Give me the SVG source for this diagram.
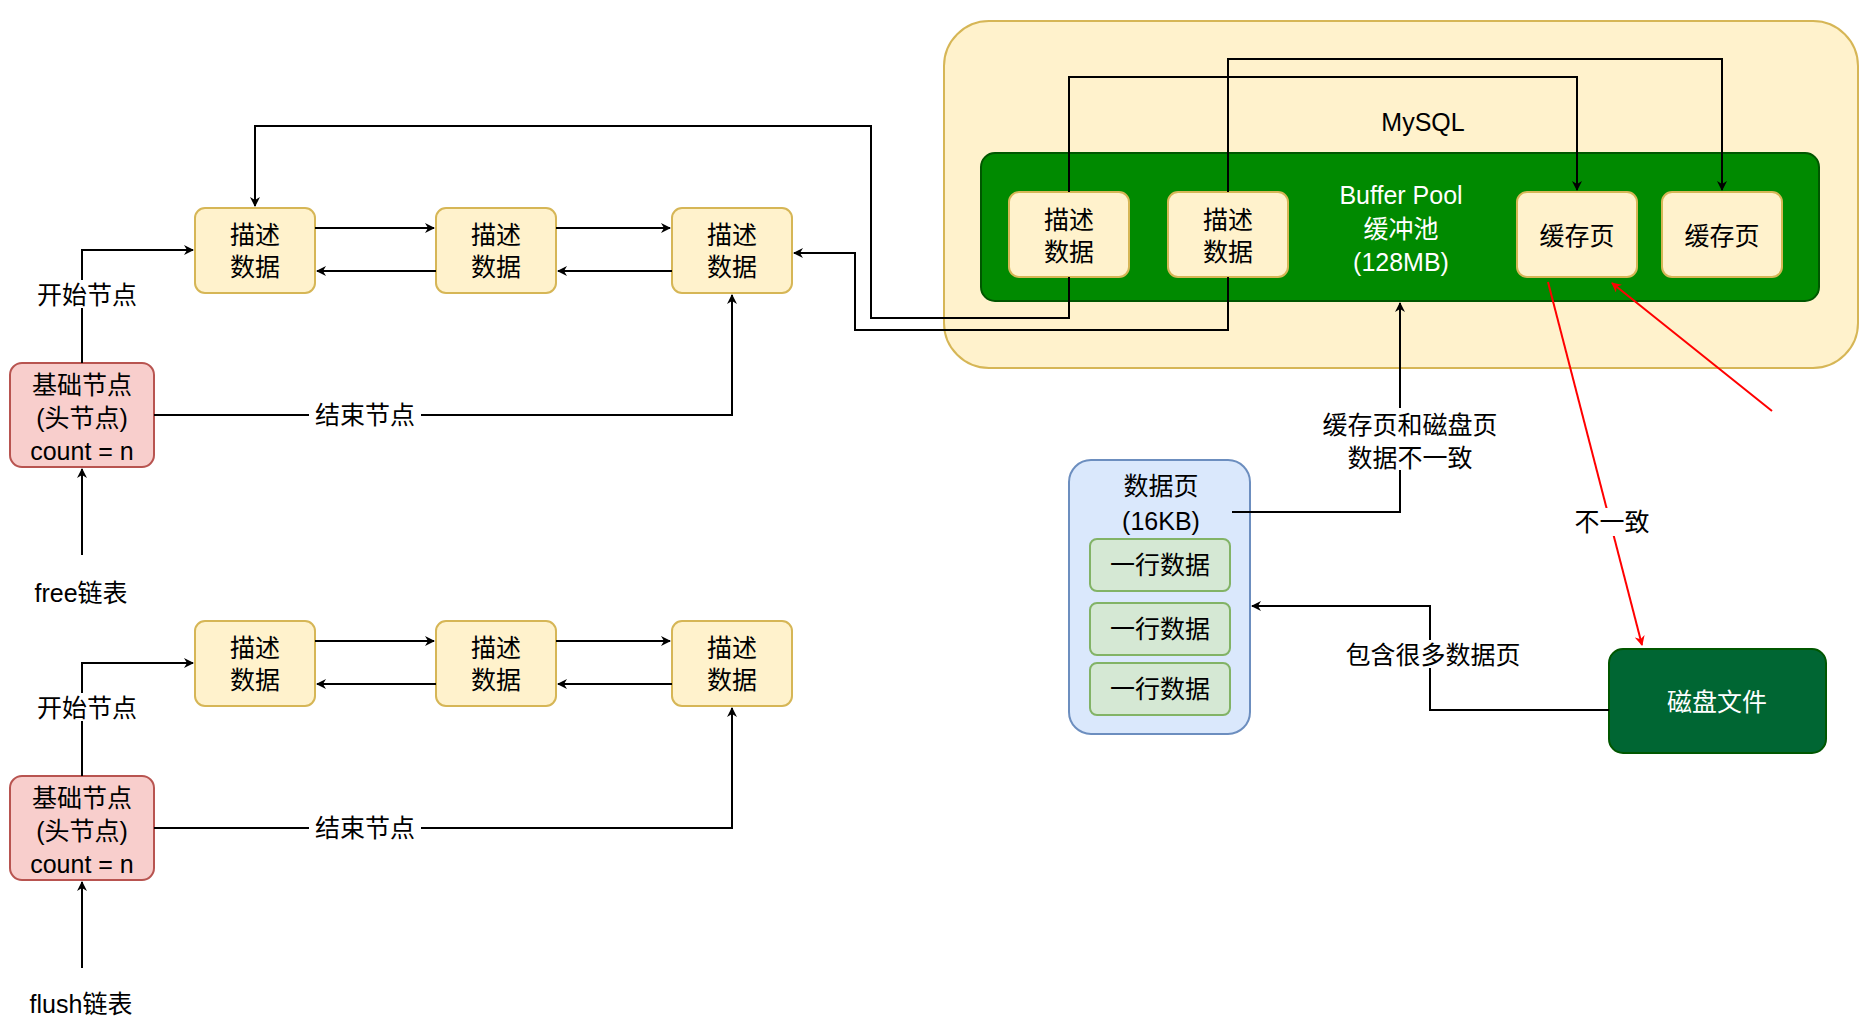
<svg xmlns="http://www.w3.org/2000/svg" width="1868" height="1026" viewBox="0 0 1868 1026">
<style>
text{font-family:"Liberation Sans","Noto Sans CJK SC",sans-serif;font-size:25px;text-anchor:middle;dominant-baseline:central;fill:#000}
.y{fill:#fff2cc;stroke:#d6b656;stroke-width:2}
.r{fill:#f8cecc;stroke:#b85450;stroke-width:2}
.g{fill:#d5e8d4;stroke:#82b366;stroke-width:2}
.e{fill:none;stroke:#000;stroke-width:2}
.red{fill:none;stroke:#f00;stroke-width:2}
.w{fill:#fff}
.lb{fill:#fff}
</style>
<defs>
<marker id="a" viewBox="0 0 10 10" refX="9" refY="5" markerWidth="10" markerHeight="10" markerUnits="userSpaceOnUse" orient="auto"><path d="M0,0 L10,5 L0,10 L3,5 Z" fill="#000"/></marker>
<marker id="ar" viewBox="0 0 10 10" refX="9" refY="5" markerWidth="10" markerHeight="10" markerUnits="userSpaceOnUse" orient="auto"><path d="M0,0 L10,5 L0,10 L3,5 Z" fill="#f00"/></marker>
</defs>
<g id="mysql"><rect x="944" y="21" width="914" height="347" rx="45" class="y"/><text x="1423" y="122">MySQL</text></g>
<g id="bufferpool"><rect x="981" y="153" width="838" height="148" rx="14" fill="#008a00" stroke="#005700" stroke-width="2"/>
<text x="1401" y="195" class="w">Buffer Pool</text><text x="1401" y="229" class="w">缓冲池</text><text x="1401" y="262" class="w">(128MB)</text></g>
<g id="b1"><rect x="1009" y="192" width="120" height="85" rx="10" class="y"/><text x="1069" y="220">描述</text><text x="1069" y="252">数据</text></g>
<g id="b2"><rect x="1168" y="192" width="120" height="85" rx="10" class="y"/><text x="1228" y="220">描述</text><text x="1228" y="252">数据</text></g>
<g id="c1"><rect x="1517" y="192" width="120" height="85" rx="10" class="y"/><text x="1577" y="236">缓存页</text></g>
<g id="c2"><rect x="1662" y="192" width="120" height="85" rx="10" class="y"/><text x="1722" y="236">缓存页</text></g>
<g id="a1"><rect x="195" y="208" width="120" height="85" rx="10" class="y"/><text x="255" y="235">描述</text><text x="255" y="267">数据</text></g>
<g id="a2"><rect x="436" y="208" width="120" height="85" rx="10" class="y"/><text x="496" y="235">描述</text><text x="496" y="267">数据</text></g>
<g id="a3"><rect x="672" y="208" width="120" height="85" rx="10" class="y"/><text x="732" y="235">描述</text><text x="732" y="267">数据</text></g>
<g id="h1"><rect x="10" y="363" width="144" height="104" rx="12" class="r"/><text x="82" y="385">基础节点</text><text x="82" y="418">(头节点)</text><text x="82" y="451">count = n</text></g>
<g id="free"><text x="81" y="593">free链表</text></g>
<g id="d1"><rect x="195" y="621" width="120" height="85" rx="10" class="y"/><text x="255" y="648">描述</text><text x="255" y="680">数据</text></g>
<g id="d2"><rect x="436" y="621" width="120" height="85" rx="10" class="y"/><text x="496" y="648">描述</text><text x="496" y="680">数据</text></g>
<g id="d3"><rect x="672" y="621" width="120" height="85" rx="10" class="y"/><text x="732" y="648">描述</text><text x="732" y="680">数据</text></g>
<g id="h2"><rect x="10" y="776" width="144" height="104" rx="12" class="r"/><text x="82" y="798">基础节点</text><text x="82" y="831">(头节点)</text><text x="82" y="864">count = n</text></g>
<g id="flush"><text x="81" y="1004">flush链表</text></g>
<g id="datapage"><rect x="1069" y="460" width="181" height="274" rx="22" fill="#dae8fc" stroke="#6c8ebf" stroke-width="2"/><text x="1161" y="486">数据页</text><text x="1161" y="521">(16KB)</text></g>
<g id="row1"><rect x="1090" y="539" width="140" height="52" rx="7" class="g"/><text x="1160" y="565">一行数据</text></g>
<g id="row2"><rect x="1090" y="603" width="140" height="52" rx="7" class="g"/><text x="1160" y="629">一行数据</text></g>
<g id="row3"><rect x="1090" y="663" width="140" height="52" rx="7" class="g"/><text x="1160" y="689">一行数据</text></g>
<g id="disk"><rect x="1609" y="649" width="217" height="104" rx="14" fill="#006633" stroke="#005700" stroke-width="2"/><text x="1717" y="702" class="w">磁盘文件</text></g>
<g id="connectors">
<path class="e" d="M315,228 H434" marker-end="url(#a)"/>
<path class="e" d="M556,228 H670" marker-end="url(#a)"/>
<path class="e" d="M436,271 H317" marker-end="url(#a)"/>
<path class="e" d="M672,271 H558" marker-end="url(#a)"/>
<path class="e" d="M315,641 H434" marker-end="url(#a)"/>
<path class="e" d="M556,641 H670" marker-end="url(#a)"/>
<path class="e" d="M436,684 H317" marker-end="url(#a)"/>
<path class="e" d="M672,684 H558" marker-end="url(#a)"/>
<path class="e" d="M82,363 V250 H193" marker-end="url(#a)"/>
<path class="e" d="M154,415 H732 V295" marker-end="url(#a)"/>
<path class="e" d="M82,555 V469" marker-end="url(#a)"/>
<path class="e" d="M82,776 V663 H193" marker-end="url(#a)"/>
<path class="e" d="M154,828 H732 V708" marker-end="url(#a)"/>
<path class="e" d="M82,968 V882" marker-end="url(#a)"/>
<path class="e" d="M1069,192 V77 H1577 V190" marker-end="url(#a)"/>
<path class="e" d="M1228,192 V59 H1722 V190" marker-end="url(#a)"/>
<path class="e" d="M1069,277 V318 H871 V126 H255 V206" marker-end="url(#a)"/>
<path class="e" d="M1228,277 V330 H855 V253 H794" marker-end="url(#a)"/>
<path class="e" d="M1232,512 H1400 V303" marker-end="url(#a)"/>
<path class="e" d="M1609,710 H1430 V606 H1252" marker-end="url(#a)"/>
<path class="red" d="M1548,282 L1642,645" marker-end="url(#ar)"/>
<path class="red" d="M1772,411 L1612,283" marker-end="url(#ar)"/>
<rect x="30" y="280" width="112" height="28" class="lb"/><text x="87" y="295">开始节点</text>
<rect x="309" y="401" width="112" height="28" class="lb"/><text x="365" y="415">结束节点</text>
<rect x="30" y="693" width="112" height="28" class="lb"/><text x="87" y="708">开始节点</text>
<rect x="309" y="814" width="112" height="28" class="lb"/><text x="365" y="828">结束节点</text>
<rect x="1314" y="408" width="190" height="62" class="lb"/><text x="1410" y="425" fill="#f00">缓存页和磁盘页</text><text x="1410" y="458" fill="#f00">数据不一致</text>
<rect x="1566" y="508" width="90" height="28" class="lb"/><text x="1612" y="522" fill="#f00">不一致</text>
<rect x="1335" y="640" width="196" height="28" class="lb"/><text x="1433" y="655">包含很多数据页</text>
</g>
</svg>
